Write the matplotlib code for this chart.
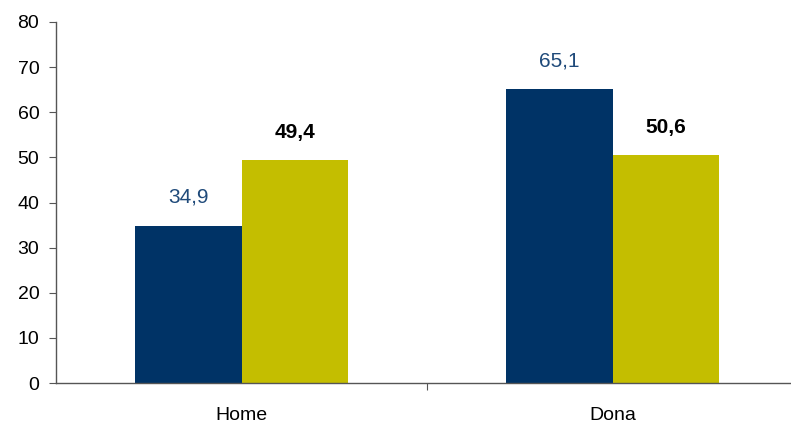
import matplotlib
matplotlib.use("Agg")
import matplotlib.pyplot as plt
import numpy as np

categories = ["Home", "Dona"]
series_a = [34.9, 65.1]
series_b = [49.4, 50.6]
yticks = [0, 10, 20, 30, 40, 50, 60, 70, 80]

plt.rcParams['font.family'] = ['Liberation Sans', 'DejaVu Sans']

W, H = 791, 425
fig = plt.figure(figsize=(W/100, H/100), dpi=100)
ax = fig.add_axes([56/W, (H-383)/H, (798-56)/W, (383-22)/H])

x = np.arange(len(categories))
bw = 0.286
ax.bar(x - bw/2, series_a, bw, color="#003366")
ax.bar(x + bw/2, series_b, bw, color="#C4BE00")

for xi, v in zip(x, series_a):
    ax.text(xi - bw/2, v + 6.3, f"{v:.1f}".replace(".", ","), ha="center", va="center",
            fontsize=15, color="#1F4A7A")
for xi, v in zip(x, series_b):
    ax.text(xi + bw/2, v + 6.1, f"{v:.1f}".replace(".", ","), ha="center", va="center",
            fontsize=15, color="black", fontweight="bold")

ax.set_xlim(-0.5, 1.5)
ax.set_ylim(0, 80)
ax.set_yticks(yticks)
ax.set_yticklabels([str(t) for t in yticks], fontsize=14)
ax.set_xticks([0.5], minor=False)
ax.set_xticklabels([""])
ax.set_xticks(x, minor=True)
ax.set_xticklabels(categories, minor=True, fontsize=14)
ax.tick_params(axis='x', which='minor', length=0, pad=17)
ax.tick_params(axis='x', which='major', length=5, direction='out', color="#555555")
ax.tick_params(axis='y', length=5, direction='out', color="#555555", pad=7)
for s in ["top", "right"]:
    ax.spines[s].set_visible(False)
for s in ["left", "bottom"]:
    ax.spines[s].set_color("#555555")
    ax.spines[s].set_linewidth(1)

fig.savefig("out.png", dpi=100)
